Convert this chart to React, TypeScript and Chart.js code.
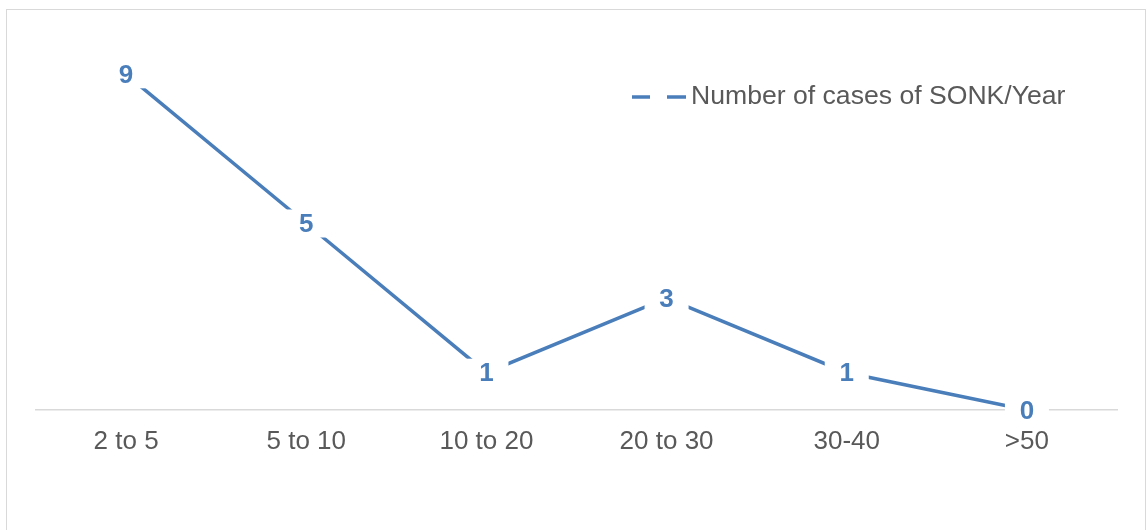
import React, { useEffect, useRef } from "react";
import { Chart, registerables } from "chart.js";

Chart.register(...registerables);

const categories = ["2 to 5", "5 to 10", "10 to 20", "20 to 30", "30-40", ">50"];
const casesPerYear = [9, 5, 1, 3, 1, 0];
const seriesName = "Number of cases of SONK/Year";

const BLUE = "#4A7EBB";
const GREY_TEXT = "#595959";
const FONT = "'Liberation Sans', Arial, sans-serif";

const decorPlugin = {
  id: "decor",
  beforeDraw(chart: any) {
    const ctx = chart.ctx;
    ctx.save();
    ctx.fillStyle = "#ffffff";
    ctx.fillRect(0, 0, chart.width, chart.height);
    ctx.strokeStyle = "#d9d9d9";
    ctx.lineWidth = 1;
    ctx.strokeRect(6.5, 9.5, 1139, 600);
    ctx.restore();
  },
  afterDatasetsDraw(chart: any) {
    const ctx = chart.ctx;
    const meta = chart.getDatasetMeta(0);
    const data = chart.data.datasets[0].data;
    ctx.save();
    meta.data.forEach((pt: any, i: number) => {
      const w = 44;
      const h = 28;
      ctx.fillStyle = "#ffffff";
      ctx.fillRect(pt.x - w / 2, pt.y - h / 2, w, h);
      ctx.fillStyle = BLUE;
      ctx.font = `bold 26px ${FONT}`;
      ctx.textAlign = "center";
      ctx.textBaseline = "middle";
      ctx.fillText(String(data[i]), pt.x, pt.y + 1.5);
    });
    ctx.restore();
  },
  afterDraw(chart: any) {
    const ctx = chart.ctx;
    ctx.save();
    const y = 97;
    ctx.strokeStyle = BLUE;
    ctx.lineWidth = 3.5;
    ctx.beginPath();
    ctx.moveTo(632, y);
    ctx.lineTo(650, y);
    ctx.moveTo(667, y);
    ctx.lineTo(686, y);
    ctx.stroke();
    ctx.fillStyle = GREY_TEXT;
    ctx.font = `26.6px ${FONT}`;
    ctx.textAlign = "left";
    ctx.textBaseline = "middle";
    ctx.fillText(seriesName, 691, y);
    ctx.restore();
  },
};

export default function App() {
  const ref = useRef<HTMLCanvasElement | null>(null);
  useEffect(() => {
    if (!ref.current) return;
    const chart = new Chart(ref.current, {
      type: "line",
      data: {
        labels: categories,
        datasets: [
          {
            label: seriesName,
            data: casesPerYear,
            borderColor: BLUE,
            backgroundColor: BLUE,
            borderWidth: 3.5,
            pointRadius: 0,
            tension: 0,
            fill: false,
          },
        ],
      },
      options: {
        animation: false,
        responsive: false,
        maintainAspectRatio: false,
        layout: { padding: { left: 36, right: 30, top: 37, bottom: 0 } },
        plugins: {
          legend: { display: false },
          tooltip: { enabled: false },
          title: { display: false },
        },
        scales: {
          x: {
            offset: true,
            grid: { display: false, drawTicks: false },
            border: { display: true, color: "#d9d9d9", width: 1.5 },
            ticks: {
              color: GREY_TEXT,
              font: { size: 26, family: FONT },
              padding: 16,
              maxRotation: 0,
              autoSkip: false,
            },
            afterFit: (scale: any) => {
              scale.height = 120;
            },
          },
          y: {
            display: false,
            min: 0,
            max: 10,
          },
        },
      },
      plugins: [decorPlugin],
    });
    return () => chart.destroy();
  }, []);
  return (
    <div style={{ position: "fixed", left: 0, top: 0, width: 1147, height: 530, background: "#fff" }}>
      <canvas ref={ref} width={1147} height={530} style={{ display: "block" }} />
    </div>
  );
}
